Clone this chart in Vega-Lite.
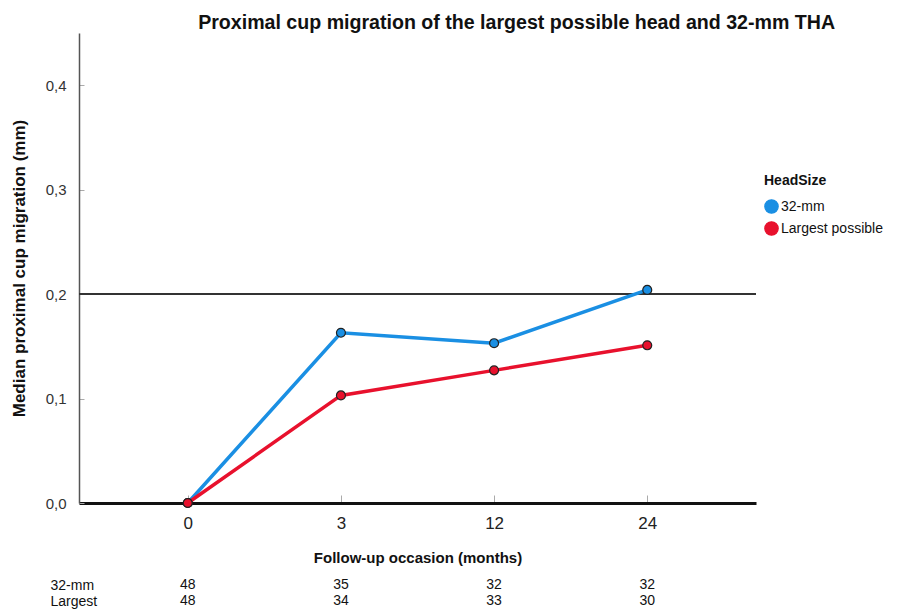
{
  "$schema": "https://vega.github.io/schema/vega-lite/v6.json",
  "background": "white",
  "padding": {"left": 10, "top": 13, "right": 5, "bottom": 0},
  "title": {"text": "Proximal cup migration of the largest possible head and 32-mm THA", "font": "Liberation Sans", "fontSize": 19.6, "fontWeight": "bold", "color": "#111", "anchor": "start", "dx": 188, "offset": -1},
  "config": {"view": {"stroke": null}, "axis": {"grid": false}},
  "datasets": {
    "series": [
      {"month": "0", "HeadSize": "32-mm", "value": 0.0},
      {"month": "3", "HeadSize": "32-mm", "value": 0.163},
      {"month": "12", "HeadSize": "32-mm", "value": 0.153},
      {"month": "24", "HeadSize": "32-mm", "value": 0.204},
      {"month": "0", "HeadSize": "Largest possible", "value": 0.0},
      {"month": "3", "HeadSize": "Largest possible", "value": 0.103},
      {"month": "12", "HeadSize": "Largest possible", "value": 0.127},
      {"month": "24", "HeadSize": "Largest possible", "value": 0.151}
    ],
    "counts": [
      {"row": "32-mm", "month": "0", "n": 48},
      {"row": "32-mm", "month": "3", "n": 35},
      {"row": "32-mm", "month": "12", "n": 32},
      {"row": "32-mm", "month": "24", "n": 32},
      {"row": "Largest", "month": "0", "n": 48},
      {"row": "Largest", "month": "3", "n": 34},
      {"row": "Largest", "month": "12", "n": 33},
      {"row": "Largest", "month": "24", "n": 30}
    ],
    "ref": [{"ref": 0.2}]
  },
  "spacing": 12,
  "vconcat": [
    {
      "width": 677,
      "height": 470,
      "layer": [
        {
          "data": {"name": "ref"},
          "mark": {"type": "rule", "color": "#333", "strokeWidth": 2},
          "encoding": {"y": {"field": "ref", "type": "quantitative", "scale": {"domain": [0, 0.45], "nice": false}}}
        },
        {
          "data": {"name": "series"},
          "mark": {"type": "line", "strokeWidth": 3.5},
          "encoding": {
            "x": {"field": "month", "type": "ordinal", "sort": ["0", "3", "12", "24"], "scale": {"type": "point", "padding": 0.71},
              "axis": {"title": "Follow-up occasion (months)", "titleFont": "Liberation Sans", "titleFontSize": 15, "titleFontWeight": "bold", "titleColor": "#111", "titlePadding": 19,
                "labelFont": "Liberation Sans", "labelFontSize": 17, "labelColor": "#222", "labelAngle": 0, "labelPadding": 20,
                "domainColor": "#111", "domainWidth": 3, "tickColor": "#aaa", "tickSize": -8, "tickWidth": 1}},
            "y": {"field": "value", "type": "quantitative", "scale": {"domain": [0, 0.45], "nice": false},
              "axis": {"title": "Median proximal cup migration (mm)", "titleFont": "Liberation Sans", "titleFontSize": 17, "titleFontWeight": "bold", "titleColor": "#111", "titlePadding": 17,
                "values": [0, 0.1, 0.2, 0.3, 0.4], "labelExpr": "replace(format(datum.value, '.1f'), '.', ',')",
                "labelFont": "Liberation Sans", "labelFontSize": 15, "labelColor": "#333", "labelPadding": 18,
                "domainColor": "#555", "domainWidth": 1.5, "tickColor": "#aaa", "tickSize": -5, "tickWidth": 1}},
            "color": {"field": "HeadSize", "type": "nominal", "scale": {"domain": ["32-mm", "Largest possible"], "range": ["#1A8FE3", "#E8112D"]},
              "legend": {"orient": "none", "legendX": 685, "legendY": 141, "title": "HeadSize", "titleFont": "Liberation Sans", "titleFontSize": 14, "titleFontWeight": "bold", "titleColor": "#111", "titlePadding": 11,
                "labelFont": "Liberation Sans", "labelFontSize": 14, "labelColor": "#111", "symbolType": "circle", "symbolSize": 180, "rowPadding": 3, "labelOffset": 2,
                "encode": {"symbols": {"update": {"stroke": {"value": "#222"}, "strokeWidth": {"value": 1.2}}}}}}
          }
        },
        {
          "data": {"name": "series"},
          "mark": {"type": "circle", "size": 80, "stroke": "#222", "strokeWidth": 1.2, "opacity": 1},
          "encoding": {
            "x": {"field": "month", "type": "ordinal", "sort": ["0", "3", "12", "24"]},
            "y": {"field": "value", "type": "quantitative"},
            "color": {"field": "HeadSize", "type": "nominal"}
          }
        }
      ]
    },
    {
      "width": 677,
      "height": 32,
      "data": {"name": "counts"},
      "mark": {"type": "text", "font": "Liberation Sans", "fontSize": 14, "color": "#111"},
      "encoding": {
        "x": {"field": "month", "type": "ordinal", "sort": ["0", "3", "12", "24"], "scale": {"type": "point", "padding": 0.71}, "axis": null},
        "y": {"field": "row", "type": "ordinal", "sort": ["32-mm", "Largest"], "scale": {"type": "point", "padding": 0.5},
          "axis": {"title": null, "domain": false, "ticks": false, "labelAlign": "left", "labelPadding": 29, "labelFont": "Liberation Sans", "labelFontSize": 14, "labelColor": "#111"}},
        "text": {"field": "n", "type": "quantitative"}
      }
    }
  ]
}
